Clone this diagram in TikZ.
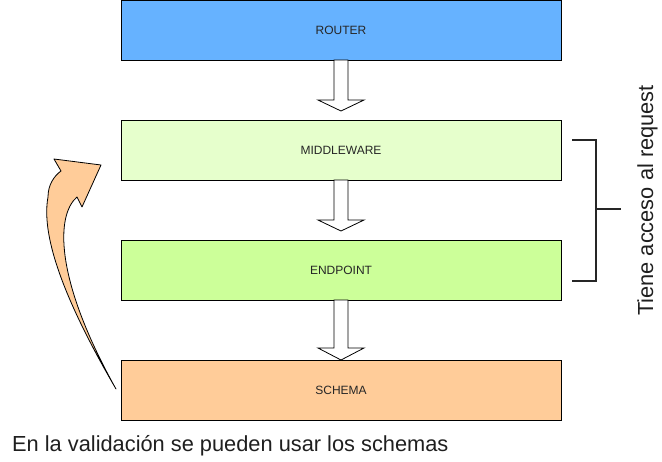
\documentclass[tikz,border=0pt]{standalone}
\usepackage{fontspec}
\setmainfont{Liberation Sans}
\usetikzlibrary{positioning}

\definecolor{routerblue}{HTML}{66B2FF}
\definecolor{midgreen}{HTML}{E6FFCC}
\definecolor{endgreen}{HTML}{CCFF99}
\definecolor{schemaorange}{HTML}{FFCC99}

\tikzset{
  capa/.style={draw=black, line width=1pt, minimum width=440pt, minimum height=60pt,
    inner sep=0pt, outer sep=0pt, font=\fontsize{12}{14}\selectfont, text=black!85},
  bigarrow/.style={draw=black, line width=0.8pt, fill=white, line join=miter},
  corchete/.style={draw=black!85, line width=1.8pt},
  nota/.style={inner sep=0pt, font=\fontsize{21.8}{26}\selectfont, text=black!88},
}

% flecha de bloque: nodo, largo del cuerpo, largo de la punta
\newcommand{\flechabloque}[3]{
  \draw[bigarrow] (#1.south) ++(-7,0) -- ++(0,#2) -- ++(-16,0) -- ++(23,#3)
    -- ++(23,-#3) -- ++(-16,0) -- ++(0,-#2) -- cycle;
}

\begin{document}
\begin{tikzpicture}[x=1pt, y=-1pt]
  \useasboundingbox (0,0) rectangle (662,461);

  \node[capa, fill=routerblue] (router) at (341,30) {ROUTER};
  \node[capa, fill=midgreen, below=60pt of router] (middleware) {MIDDLEWARE};
  \node[capa, fill=endgreen, below=60pt of middleware] (endpoint) {ENDPOINT};
  \node[capa, fill=schemaorange, below=60pt of endpoint] (schema) {SCHEMA};

  \flechabloque{router}{40}{11}
  \flechabloque{middleware}{40}{11}
  \flechabloque{endpoint}{48}{12}

  % llave de la derecha
  \draw[corchete] (572,140) -- (596,140) -- (596,281) -- (572,281)
    (596,209) -- (621,209);
  \node[nota, rotate=90, anchor=base] (acceso) at (653,200.5) {Tiene acceso al request};

  % flecha curva de schema a middleware
  \draw[fill=schemaorange, line width=0.8pt, line join=round]
    (116,389) .. controls (70,310) and (40,240) .. (48,197)
    .. controls (48,185) and (54,176) .. (61,171) -- (54,159) -- (101,165)
    -- (82,207) -- (77,197) .. controls (56,215) and (54,278) .. (116,389) -- cycle;

  \node[nota, anchor=base west] (validacion) at (12,451) {En la validación se pueden usar los schemas};
\end{tikzpicture}
\end{document}
